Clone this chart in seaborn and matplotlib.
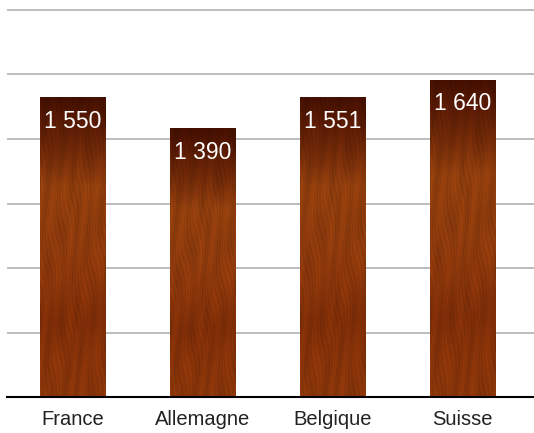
import numpy as np
import matplotlib
matplotlib.use("Agg")
import matplotlib.pyplot as plt
import pandas as pd
import seaborn as sns

# ---------------------------------------------------------------------------
# Data
# ---------------------------------------------------------------------------
countries = ["France", "Allemagne", "Belgique", "Suisse"]
values = [1550, 1390, 1551, 1640]
value_labels = ["1 550", "1 390", "1 551", "1 640"]
y_top = 2000
n_grid = 6

df = pd.DataFrame({"pays": countries, "valeur": values})


def wood_texture(h=320, w=70):
    """Deterministic wood-grain image: dark top, warm brown body."""
    yy, xx = np.mgrid[0:h, 0:w].astype(float)
    t = yy / (h - 1)
    stops = [0.0, 0.1, 0.3, 0.5, 0.75, 1.0]
    r = np.interp(t, stops, [0.26, 0.36, 0.56, 0.56, 0.50, 0.54])
    g = np.interp(t, stops, [0.06, 0.11, 0.24, 0.23, 0.18, 0.21])
    b = np.interp(t, stops, [0.00, 0.02, 0.05, 0.05, 0.03, 0.04])
    wob = xx + 3.0 * np.sin(yy / 21.0 + xx / 8.0) + 2.0 * np.sin(yy / 57.0)
    grain = (0.5 * np.sin(wob * 1.9) + 0.35 * np.sin(wob * 0.42 + 1.2)
             + 0.3 * np.sin(wob * 3.3 + 0.4)
             + 0.3 * np.sin(0.35 * xx + yy / 14.0 + 2.0 * np.sin(xx / 6.0)))
    shade = 1.0 + 0.11 * grain
    img = np.dstack([r * shade, g * shade, b * shade])
    return np.clip(img, 0, 1)


sns.set_style("white")
plt.rcParams["font.family"] = ["Liberation Sans", "DejaVu Sans"]

fig = plt.figure(figsize=(5.34, 4.33), dpi=100)
ax = fig.add_axes([0.014, 0.0831, 0.986, 0.9117])

sns.barplot(data=df, x="pays", y="valeur", order=countries, width=0.5,
            color="#7e3208", edgecolor="#d9cfca", linewidth=0.6, ax=ax,
            zorder=2)

texture = wood_texture()
for patch in ax.patches:
    x0 = patch.get_x()
    x1 = x0 + patch.get_width()
    h = patch.get_height()
    im = ax.imshow(texture, extent=(x0, x1, 0, h), aspect="auto",
                   origin="upper", zorder=2.5, interpolation="bilinear")
    im.set_clip_path(patch)

for i, (v, lab) in enumerate(zip(values, value_labels)):
    ax.text(i, v - 125, lab, ha="center", va="center", color="white",
            fontsize=16.5, zorder=4)

ax.set_xlim(-0.5, 3.55)
ax.set_ylim(0, 2040)
ax.set_yticks(np.linspace(0, y_top, n_grid + 1))
ax.set_yticklabels([])
ax.yaxis.grid(True, color="#b8b8b8", linewidth=1.3, zorder=0)
ax.set_axisbelow(True)
ax.tick_params(axis="both", length=0)
ax.tick_params(axis="x", pad=9, labelsize=14.5, labelcolor="#222222")
ax.set_xlabel("")
ax.set_ylabel("")

for side in ["top", "right", "left"]:
    ax.spines[side].set_visible(False)
ax.spines["bottom"].set_color("black")
ax.spines["bottom"].set_linewidth(1.5)
ax.spines["bottom"].set_zorder(5)

fig.savefig("out.png", dpi=100)
